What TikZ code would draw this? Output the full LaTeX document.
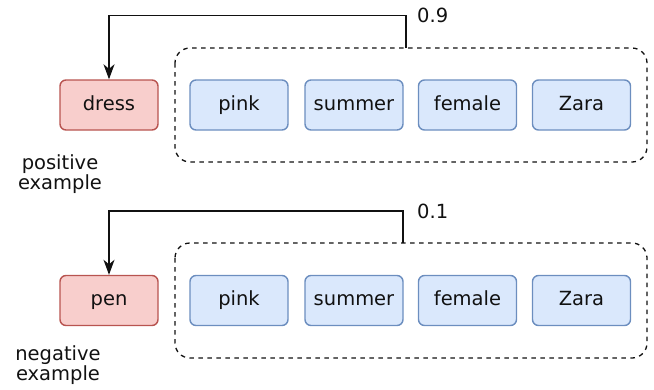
\documentclass[tikz,border=0pt]{standalone}
\usepackage{fontspec}
\setmainfont{DejaVu Sans}
\usetikzlibrary{arrows.meta}
\definecolor{redfill}{HTML}{F8CECC}
\definecolor{redline}{HTML}{B85450}
\definecolor{bluefill}{HTML}{DAE8FC}
\definecolor{blueline}{HTML}{6C8EBF}
\definecolor{ink}{HTML}{111111}
\begin{document}
\begin{tikzpicture}[x=1pt,y=-1pt,
  every node/.style={font=\fontsize{19.5}{20}\selectfont, text=ink, inner sep=0pt},
  itembox/.style={draw=#1line, fill=#1fill, line width=1.4pt, rounded corners=6pt,
    minimum width=98pt, minimum height=50pt, text height=14pt, text depth=4pt},
  groupbox/.style={draw=ink, line width=1.3pt, dash pattern=on 4.5pt off 4.5pt,
    rounded corners=15pt},
  scoreline/.style={draw=ink, line width=1.5pt, -{Stealth[length=15pt,width=11pt,inset=4.5pt]}},
  caption/.style={align=center}]
\useasboundingbox (0,0) rectangle (654,389);

% positive pair
\node[itembox=red] (dress) at (109,105) {dress};
\node[itembox=blue] (pinkA) at (239,105) {pink};
\node[itembox=blue] (summerA) at (354,105) {summer};
\node[itembox=blue] (femaleA) at (467.5,105) {female};
\node[itembox=blue] (zaraA) at (581.5,105) {Zara};
\draw[groupbox] (175,48) rectangle (647,162);
\coordinate (ctxA) at (406,48);
\coordinate (bendA) at (406,15.5);
\draw[scoreline] (ctxA) -- (bendA) -| (dress.north);
\node[anchor=west] (scoreA) at (417,15.5) {0.9};
\node[caption] (posA) at (60,174) {positive\\example};

% negative pair
\node[itembox=red] (pen) at (109,300.5) {pen};
\node[itembox=blue] (pinkB) at (239,300.5) {pink};
\node[itembox=blue] (summerB) at (354,300.5) {summer};
\node[itembox=blue] (femaleB) at (467.5,300.5) {female};
\node[itembox=blue] (zaraB) at (581.5,300.5) {Zara};
\draw[groupbox] (175,243) rectangle (647,358);
\coordinate (ctxB) at (403,243);
\coordinate (bendB) at (403,211);
\draw[scoreline] (ctxB) -- (bendB) -| (pen.north);
\node[anchor=west] (scoreB) at (417,211) {0.1};
\node[caption] (negB) at (58,365) {negative\\example};
\end{tikzpicture}
\end{document}
